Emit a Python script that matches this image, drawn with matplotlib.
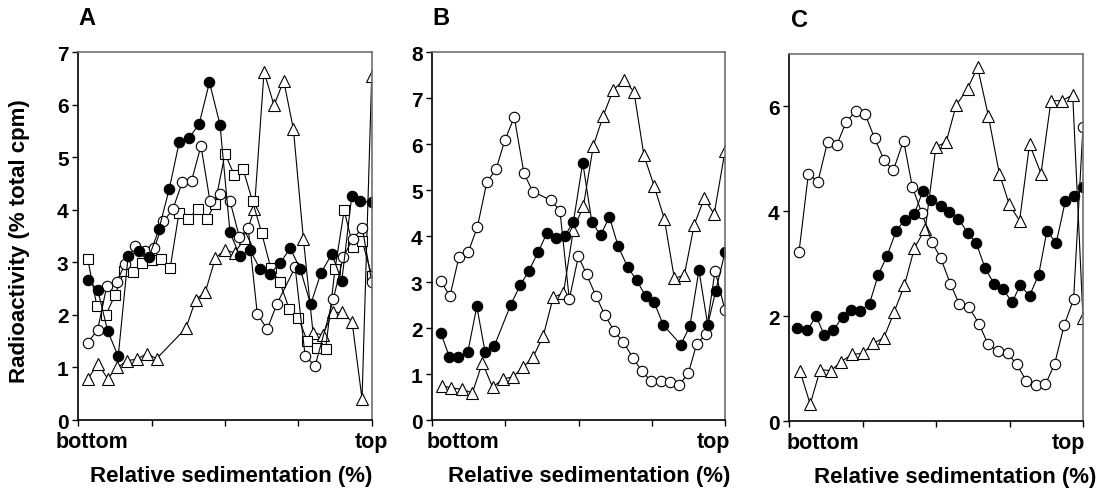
import matplotlib.pyplot as plt

plt.rcParams['font.family'] = ['Liberation Sans', 'DejaVu Sans']
plt.rcParams['font.weight'] = 'bold'

# ---- panel A ----
a_filled_x = [3.2, 6.6, 10.0, 13.6, 17.0, 20.7, 24.1, 27.5, 31.0, 34.4, 37.8, 41.2, 44.7, 48.3, 51.7,
              55.1, 58.5, 61.9, 65.3, 68.8, 72.2, 75.6, 79.2, 82.7, 86.4, 89.8, 93.2, 96.0, 100]
a_filled_y = [2.67, 2.48, 1.70, 1.21, 3.13, 3.22, 3.10, 3.64, 4.40, 5.29, 5.37, 5.64, 6.43, 5.62, 3.57,
              3.12, 3.24, 2.88, 2.78, 2.99, 3.27, 2.88, 2.20, 2.80, 3.16, 2.65, 4.27, 4.16, 4.15]
a_open_x = [3.2, 6.6, 9.7, 13.1, 15.9, 19.3, 22.7, 25.9, 29.0, 32.2, 35.5, 38.6, 41.8, 44.9, 48.3,
            51.7, 54.9, 57.9, 61.0, 64.4, 67.6, 73.9, 77.3, 80.7, 86.9, 90.3, 93.5, 96.8, 100]
a_open_y = [1.47, 1.72, 2.55, 2.63, 2.97, 3.31, 3.21, 3.27, 3.78, 4.01, 4.54, 4.55, 5.22, 4.16, 4.30,
            4.17, 3.48, 3.65, 2.02, 1.73, 2.20, 2.91, 1.22, 1.03, 2.30, 3.10, 3.45, 3.65, 2.63]
a_square_x = [3.2, 6.3, 9.3, 12.5, 15.7, 18.8, 21.8, 25.0, 28.2, 31.3, 34.3, 37.5, 40.7, 43.8, 46.6, 50.0,
              53.1, 56.2, 59.4, 62.5, 65.6, 68.7, 71.9, 75.0, 78.0, 81.3, 84.3, 87.5, 90.6, 93.7, 96.8, 100]
a_square_y = [3.07, 2.18, 1.99, 2.38, 2.84, 2.81, 2.99, 3.05, 3.07, 2.89, 3.94, 3.83, 4.02, 3.83, 4.11, 5.07,
              4.67, 4.77, 4.16, 3.56, 2.89, 2.62, 2.11, 1.94, 1.51, 1.37, 1.35, 2.88, 3.99, 3.29, 3.40, 2.75]
a_tri_x = [3.3, 6.7, 10.0, 13.3, 16.7, 20.0, 23.3, 26.7, 36.7, 40.0, 43.3, 46.7, 50.0, 53.3,
           56.7, 60.0, 63.3, 66.7, 70.0, 73.3, 76.7, 80.0, 83.3, 86.7, 90.0, 93.3, 96.7, 100]
a_tri_y = [0.79, 1.07, 0.79, 1.00, 1.13, 1.16, 1.26, 1.17, 1.75, 2.29, 2.44, 3.08, 3.24, 3.18,
           3.46, 4.01, 6.63, 5.99, 6.46, 5.54, 3.45, 1.66, 1.62, 2.05, 2.05, 1.87, 0.40, 6.55]

# ---- panel B ----
b_open_x = [2.9, 6.0, 9.1, 12.3, 15.4, 18.6, 21.8, 24.8, 28.0, 31.3, 34.3, 40.6, 43.6, 46.8, 49.9, 52.7,
            55.9, 59.0, 62.1, 65.3, 68.5, 71.5, 74.7, 78.0, 81.2, 84.3, 87.5, 90.3, 93.5, 96.6, 100]
b_open_y = [3.03, 2.69, 3.55, 3.66, 4.20, 5.17, 5.46, 6.09, 6.59, 5.37, 4.97, 4.78, 4.55, 2.63, 3.56, 3.17,
            2.70, 2.28, 1.94, 1.69, 1.36, 1.07, 0.85, 0.85, 0.82, 0.76, 1.02, 1.65, 1.87, 3.25, 2.39]
b_filled_x = [2.9, 5.8, 8.9, 12.1, 15.2, 18.0, 21.1, 26.8, 30.0, 33.0, 36.2, 39.1, 42.2, 45.3, 48.2, 51.4,
              54.5, 57.5, 60.5, 63.5, 66.8, 69.8, 72.9, 75.8, 78.9, 84.9, 88.0, 91.1, 94.1, 96.8, 100]
b_filled_y = [1.89, 1.38, 1.38, 1.47, 2.47, 1.49, 1.60, 2.51, 2.93, 3.25, 3.66, 4.06, 3.95, 4.01, 4.31, 5.60,
              4.31, 4.02, 4.42, 3.78, 3.32, 3.04, 2.70, 2.56, 2.07, 1.64, 2.04, 3.26, 2.07, 2.80, 3.65]
b_tri_x = [3.2, 6.4, 10.0, 13.7, 17.1, 20.6, 24.0, 27.5, 31.1, 34.5, 37.9, 41.3, 44.8, 48.2, 51.6,
           55.0, 58.4, 61.8, 65.5, 68.9, 72.3, 75.8, 79.3, 82.7, 86.1, 89.5, 92.9, 96.3, 100]
b_tri_y = [0.75, 0.70, 0.67, 0.59, 1.25, 0.71, 0.89, 0.94, 1.15, 1.38, 1.83, 2.67, 2.76, 4.14, 4.65,
           5.96, 6.62, 7.18, 7.40, 7.14, 5.76, 5.09, 4.37, 3.08, 3.15, 4.25, 4.82, 4.48, 5.85]

# ---- panel C ----
c_open_x = [3.3, 6.5, 9.7, 13.0, 16.2, 19.3, 22.6, 25.8, 29.0, 32.3, 35.4, 38.9, 41.9, 45.1, 48.5, 51.6,
            54.8, 57.9, 61.1, 64.6, 67.7, 70.9, 74.3, 77.5, 80.7, 84.0, 87.2, 90.3, 93.6, 96.8, 100]
c_open_y = [3.23, 4.72, 4.56, 5.32, 5.27, 5.70, 5.91, 5.85, 5.40, 4.97, 4.78, 5.35, 4.46, 3.97, 3.42, 3.10,
            2.62, 2.23, 2.18, 1.85, 1.46, 1.33, 1.29, 1.08, 0.76, 0.69, 0.70, 1.08, 1.83, 2.32, 5.61]
c_filled_x = [2.7, 6.1, 9.1, 11.9, 15.0, 18.1, 21.0, 24.1, 27.3, 30.3, 33.2, 36.4, 39.4, 42.5, 45.5, 48.3, 51.6,
              54.5, 57.6, 60.8, 63.6, 66.7, 69.8, 72.7, 75.9, 78.6, 81.8, 84.9, 87.7, 90.9, 94.0, 97.0, 100]
c_filled_y = [1.77, 1.73, 2.00, 1.64, 1.73, 1.99, 2.11, 2.10, 2.24, 2.79, 3.14, 3.63, 3.84, 3.94, 4.39, 4.21, 4.11,
              3.99, 3.86, 3.58, 3.40, 2.91, 2.61, 2.51, 2.27, 2.59, 2.39, 2.79, 3.62, 3.40, 4.20, 4.29, 4.46]
c_tri_x = [3.6, 7.1, 10.5, 14.1, 17.6, 21.3, 25.0, 28.6, 32.2, 35.7, 39.2, 42.6, 46.3, 49.9,
           53.4, 56.8, 60.7, 64.1, 67.8, 71.5, 74.9, 78.4, 81.8, 85.7, 89.1, 92.8, 96.5, 100]
c_tri_y = [0.96, 0.32, 0.98, 0.96, 1.13, 1.27, 1.29, 1.48, 1.59, 2.08, 2.59, 3.30, 3.67, 5.23,
           5.32, 6.02, 6.34, 6.75, 5.81, 4.72, 4.13, 3.82, 5.28, 4.72, 6.11, 6.11, 6.22, 1.96]

panel_letters = ['A', 'B', 'C']
y_limits = [7, 8, 7]
y_ticks = [list(range(0, 8)), list(range(0, 9)), [0, 2, 4, 6]]
bottom_pos = [4.5, 10.5, 11.5]
top_pos = [100, 96, 95]
letter_pos = [0.03, 0.03, 0.036]
xlabel_pos = [0.52, 0.535, 0.565]

fig = plt.figure(figsize=(11.06, 4.89), dpi=100)
axA = fig.add_axes([0.0708, 0.139, 0.2653, 0.752])
axB = fig.add_axes([0.3909, 0.139, 0.2646, 0.752])
axC = fig.add_axes([0.7137, 0.137, 0.2655, 0.7505])
axes = [axA, axB, axC]

circ = dict(color='black', lw=0.8, marker='o', ms=7.5, mew=0.8, mec='black')
sq = dict(color='black', lw=0.8, marker='s', ms=6.5, mew=0.8, mec='black', mfc='white')
tri = dict(color='black', lw=0.8, marker='^', ms=8, mew=0.8, mec='black', mfc='white')

axA.plot(a_tri_x, a_tri_y, **tri)
axA.plot(a_square_x, a_square_y, **sq)
axA.plot(a_open_x, a_open_y, mfc='white', **circ)
axA.plot(a_filled_x, a_filled_y, mfc='black', **circ)

axB.plot(b_tri_x, b_tri_y, **tri)
axB.plot(b_open_x, b_open_y, mfc='white', **circ)
axB.plot(b_filled_x, b_filled_y, mfc='black', **circ)

axC.plot(c_tri_x, c_tri_y, **tri)
axC.plot(c_open_x, c_open_y, mfc='white', **circ)
axC.plot(c_filled_x, c_filled_y, mfc='black', **circ)

for i, ax in enumerate(axes):
    ax.set_xlim(0, 100)
    ax.set_ylim(0, y_limits[i])
    ax.set_yticks(y_ticks[i])
    ax.set_xticks([0, 25, 50, 75, 100])
    ax.set_xticklabels([])
    ax.tick_params(axis='both', direction='out', length=4, width=1, labelsize=15, pad=3)
    for s in ['left', 'bottom']:
        ax.spines[s].set_color('black')
        ax.spines[s].set_linewidth(1.2)
    for s in ['top', 'right']:
        ax.spines[s].set_color('#707070')
        ax.spines[s].set_linewidth(1.2)
    tr = ax.get_xaxis_transform()
    ax.text(bottom_pos[i], -0.03, 'bottom', transform=tr, ha='center', va='top',
            fontsize=15.5, fontweight='bold')
    ax.text(top_pos[i], -0.03, 'top', transform=tr, ha='center', va='top',
            fontsize=15.5, fontweight='bold')
    ax.set_xlabel('Relative sedimentation (%)', fontsize=16, fontweight='bold')
    ax.xaxis.set_label_coords(xlabel_pos[i], -0.122)
    ax.text(letter_pos[i], 1.095, panel_letters[i], transform=ax.transAxes, fontsize=17,
            fontweight='bold', ha='center', va='center')

axA.set_ylabel('Radioactivity (% total cpm)', fontsize=16, fontweight='bold')
axA.yaxis.set_label_coords(-0.165, 0.49)

fig.savefig('out.png', dpi=100)
